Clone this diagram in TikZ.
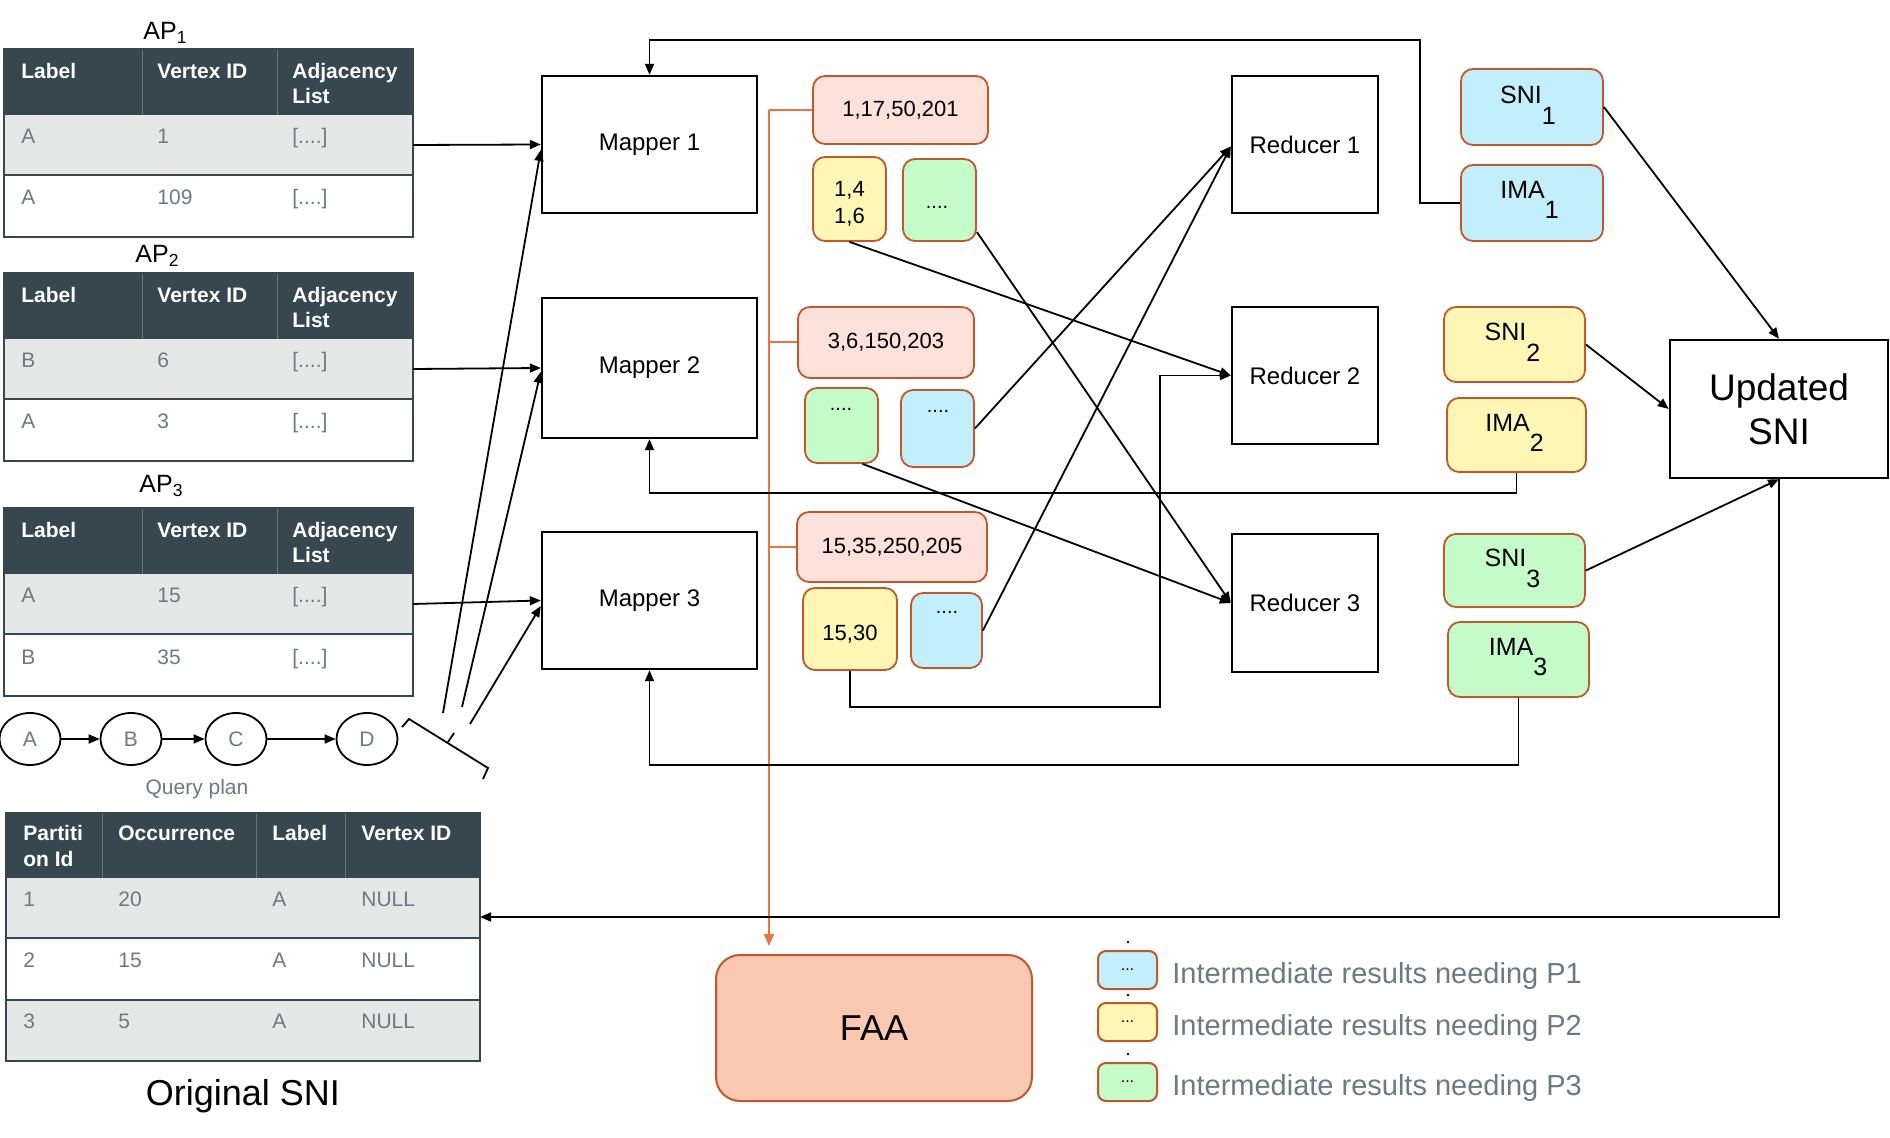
\documentclass[tikz,border=0pt]{standalone}
\usepackage{fontspec}
\setmainfont{Liberation Sans}
\usetikzlibrary{arrows.meta,shapes.geometric,calc}
\definecolor{hdr}{HTML}{37474F}
\definecolor{rowg}{HTML}{E6E8E8}
\definecolor{txtg}{HTML}{6B7A84}
\definecolor{bord}{HTML}{C0582B}
\definecolor{cpink}{HTML}{FDE1DA}
\definecolor{cyel}{HTML}{FDF6B5}
\definecolor{cgrn}{HTML}{C5FBC8}
\definecolor{cblu}{HTML}{C3EEFC}
\definecolor{cfaa}{HTML}{F8C8B0}
\definecolor{oline}{HTML}{EE7240}
\tikzset{
  cell/.style={anchor=north west, inner sep=0pt, outer sep=0pt, draw=none},
  cellh/.style={cell, fill=hdr},
  th/.style={anchor=base west, inner sep=0pt, text=white, font=\fontsize{10.5}{12}\selectfont\bfseries},
  td/.style={anchor=base west, inner sep=0pt, text=txtg, font=\fontsize{10.5}{12}\selectfont},
  bx/.style={draw=black, line width=1.2pt, inner sep=0pt, font=\fontsize{12}{14}\selectfont},
  cbox/.style={draw=bord, line width=0.9pt, rounded corners=6pt, inner sep=0pt, font=\fontsize{11}{13.5}\selectfont, align=center},
  ctxt/.style={inner sep=0pt, font=\fontsize{11}{13.5}\selectfont, align=center},
  dotsl/.style={inner sep=0pt, font=\fontsize{10}{12}\selectfont},
  subl/.style={inner sep=0pt, font=\fontsize{12.5}{14}\selectfont},
  arr/.style={-{Triangle[length=5.5pt,width=4.5pt]}, line width=0.9pt},
  conn/.style={line width=0.9pt},
  ol/.style={draw=oline, line width=1pt},
  ell/.style={ellipse, draw=black, line width=0.9pt, minimum width=30.5pt, minimum height=26pt, inner sep=0pt, text=txtg, font=\fontsize{10.5}{12}\selectfont},
  lgbox/.style={draw=bord, line width=1pt, rounded corners=4pt, minimum width=29.5pt, minimum height=19pt, inner sep=0pt, font=\fontsize{8}{9}\selectfont},
  lgtxt/.style={anchor=base west, inner sep=0pt, text=txtg, font=\fontsize{14.5}{16}\selectfont}
}
\newcommand\aptab[6]{%
  \node[cellh, minimum width=204.5pt, minimum height=33pt] (#1h) at (4,#2) {};
  \node[cell, fill=rowg, minimum width=204.5pt, minimum height=30pt] (#1r1) at (4,{#2+66}) {};
  \node[cell, fill=white, minimum width=204.5pt, minimum height=31pt] (#1r2) at (4,{#2+126}) {};
  \draw[hdr!75!white, line width=0.4pt] (142,#2) -- (142,{#2+66});
  \draw[hdr!75!white, line width=0.4pt] (277,#2) -- (277,{#2+66});
  \draw[hdr, line width=1pt] (#1h.north west) rectangle (#1r2.south east);
  \draw[hdr, line width=1pt] (#1r1.south west) -- (#1r1.south east);
  \node[th] (#1ta) at (21,{#2+29.5}) {Label};
  \node[th] (#1tb) at (157,{#2+29.5}) {Vertex ID};
  \node[th] (#1tc) at (292,{#2+29.5}) {Adjacency};
  \node[th] (#1td) at (292,{#2+54.5}) {List};
  \node[td] (#1da) at (21,{#2+95}) {#3};
  \node[td] (#1db) at (157,{#2+95}) {#4};
  \node[td] (#1dc) at (292,{#2+95}) {[....]};
  \node[td] (#1dd) at (21,{#2+156}) {#5};
  \node[td] (#1de) at (157,{#2+156}) {#6};
  \node[td] (#1df) at (292,{#2+156}) {[....]};
}
\begin{document}
\begin{tikzpicture}[x=0.5pt,y=-0.5pt]
\useasboundingbox (0,0) rectangle (1890,1138);
\fill[white] (0,0) rectangle (1890,1138);

% AP tables
\node[anchor=base west, inner sep=0pt, font=\fontsize{12.5}{14}\selectfont] (ap1l) at (143,40) {AP\textsubscript{1}};
\aptab{ap1}{49}{A}{1}{A}{109}
\node[anchor=base west, inner sep=0pt, font=\fontsize{12.5}{14}\selectfont] (ap2l) at (135,263) {AP\textsubscript{2}};
\aptab{ap2}{273}{B}{6}{A}{3}
\node[anchor=base west, inner sep=0pt, font=\fontsize{12.5}{14}\selectfont] (ap3l) at (139,493) {AP\textsubscript{3}};
\aptab{ap3}{508}{A}{15}{B}{35}

% Query plan
\node[ell] (qa) at (30,739) {A};
\node[ell] (qb) at (131,739) {B};
\node[ell] (qc) at (236,739) {C};
\node[ell] (qd) at (367,739) {D};
\draw[arr] (qa) -- (qb);
\draw[arr] (qb) -- (qc);
\draw[arr] (qc) -- (qd);
\node[inner sep=0pt, text=txtg, font=\fontsize{10.5}{12}\selectfont] (qp) at (197,789) {Query plan};
\draw[conn] (402,727) -- (409,719) -- (488,768) -- (483,779);
\draw[conn] (448,742) -- (454,733);
\coordinate (q1) at (443,713);
\coordinate (q2) at (462,707);
\coordinate (q3) at (470,724);

% Original SNI table
\node[cellh, minimum width=237pt, minimum height=32.5pt] (osh) at (6,813) {};
\node[cell, fill=rowg, minimum width=237pt, minimum height=30pt] (os1) at (6,878) {};
\node[cell, fill=white, minimum width=237pt, minimum height=31pt] (os2) at (6,938) {};
\node[cell, fill=rowg, minimum width=237pt, minimum height=30.5pt] (os3) at (6,1000) {};
\foreach \cx in {102,256,345} {\draw[hdr!75!white, line width=0.4pt] (\cx,813) -- (\cx,878);}
\draw[hdr, line width=1pt] (osh.north west) rectangle (os3.south east);
\draw[hdr, line width=1pt] (os1.south west) -- (os1.south east);
\draw[hdr, line width=1pt] (os2.south west) -- (os2.south east);
\node[th] (oha) at (23,840.5) {Partiti};
\node[th] (ohb) at (23,866.5) {on Id};
\node[th] (ohc) at (118,840.5) {Occurrence};
\node[th] (ohd) at (272,840.5) {Label};
\node[th] (ohe) at (361,840.5) {Vertex ID};
\node[td] (o1a) at (23,906) {1};
\node[td] (o1b) at (118,906) {20};
\node[td] (o1c) at (272,906) {A};
\node[td] (o1d) at (361,906) {NULL};
\node[td] (o2a) at (23,967) {2};
\node[td] (o2b) at (118,967) {15};
\node[td] (o2c) at (272,967) {A};
\node[td] (o2d) at (361,967) {NULL};
\node[td] (o3a) at (23,1028) {3};
\node[td] (o3b) at (118,1028) {5};
\node[td] (o3c) at (272,1028) {A};
\node[td] (o3d) at (361,1028) {NULL};
\node[anchor=base, inner sep=0pt, font=\fontsize{18}{20}\selectfont] (osl) at (243,1105) {Original SNI};

% Mappers
\node[bx, minimum width=107.5pt, minimum height=68.5pt] (m1) at (649.5,144.5) {Mapper 1};
\node[bx, minimum width=107.5pt, minimum height=70pt] (m2) at (649.5,368) {Mapper 2};
\node[bx, minimum width=107.5pt, minimum height=68.5pt] (m3) at (649.5,600.5) {Mapper 3};

% Reducers
\node[bx, minimum width=73pt, minimum height=68.5pt] (r1) at (1305,144.5) {Reducer 1};
\node[bx, minimum width=73pt, minimum height=68.5pt] (r2) at (1305,375.5) {Reducer 2};
\node[bx, minimum width=73pt, minimum height=69pt] (r3) at (1305,603) {Reducer 3};

% Updated SNI
\node[bx, minimum width=109pt, minimum height=69pt, align=center, font=\fontsize{18.5}{22}\selectfont] (upd) at (1779,409) {Updated\\SNI};

% Intermediate result boxes
\node[cbox, fill=cpink, minimum width=87.5pt, minimum height=34pt] (p1) at (900.5,110) {1,17,50,201};
\node[cbox, fill=cyel, minimum width=36.5pt, minimum height=42pt] (y1) at (849.5,199) {};
\node[ctxt] (y1t) at (849.5,204) {1,4\\1,6};
\node[cbox, fill=cgrn, minimum width=36.5pt, minimum height=41pt] (g1) at (939.5,200) {};
\node[dotsl] (g1d) at (937,207) {....};
\node[cbox, fill=cpink, minimum width=88pt, minimum height=35.5pt] (p2) at (886,342.5) {3,6,150,203};
\node[cbox, fill=cgrn, minimum width=36.5pt, minimum height=37.5pt] (g2) at (841.5,425.5) {};
\node[dotsl] (g2d) at (841,409) {....};
\node[cbox, fill=cblu, minimum width=36.5pt, minimum height=38.5pt] (b2) at (937.5,428.5) {};
\node[dotsl] (b2d) at (938,411) {....};
\node[cbox, fill=cpink, minimum width=95pt, minimum height=35pt] (p3) at (892,547) {15,35,250,205};
\node[cbox, fill=cyel, minimum width=47pt, minimum height=41pt] (y3) at (850,629) {};
\node[ctxt] (y3t) at (850,634) {15,30};
\node[cbox, fill=cblu, minimum width=35.5pt, minimum height=37.5pt] (b3) at (946.5,630.5) {};
\node[dotsl] (b3d) at (947,612) {....};

% SNI / IMA boxes
\node[cbox, fill=cblu, minimum width=71pt, minimum height=38pt] (s1) at (1532,107) {};
\node[cbox, fill=cblu, minimum width=71pt, minimum height=38pt] (i1) at (1532,203) {};
\node[cbox, fill=cyel, minimum width=70.5pt, minimum height=37.5pt] (s2) at (1514.5,344.5) {};
\node[cbox, fill=cyel, minimum width=69.5pt, minimum height=37pt] (i2) at (1516.5,435) {};
\node[cbox, fill=cgrn, minimum width=70.5pt, minimum height=36.5pt] (s3) at (1514.5,570.5) {};
\node[cbox, fill=cgrn, minimum width=70.5pt, minimum height=37.5pt] (i3) at (1518.5,659.5) {};
\node[subl] (s1t) at (1528,95) {SNI\smash{\raisebox{-10.5pt}{1}}};
\node[subl] (i1t) at (1529.5,190) {IMA\smash{\raisebox{-10pt}{1}}};
\node[subl] (s2t) at (1512.5,332) {SNI\smash{\raisebox{-10.5pt}{2}}};
\node[subl] (i2t) at (1514.5,423) {IMA\smash{\raisebox{-10pt}{2}}};
\node[subl] (s3t) at (1512.5,558) {SNI\smash{\raisebox{-10.5pt}{3}}};
\node[subl] (i3t) at (1518,647) {IMA\smash{\raisebox{-10pt}{3}}};

% FAA
\node[draw=bord, line width=1pt, fill=cfaa, rounded corners=12pt, minimum width=158pt, minimum height=73pt, font=\fontsize{18}{20}\selectfont] (faa) at (874,1028) {FAA};

% Legend
\node[lgbox, fill=cblu] (lb1) at (1127.5,970) {...};
\node[lgbox, fill=cyel] (lb2) at (1127.5,1022) {...};
\node[lgbox, fill=cgrn] (lb3) at (1127.5,1082) {...};
\fill (1128,942) circle (0.7pt);
\fill (1128,995) circle (0.7pt);
\fill (1128,1054) circle (0.7pt);
\node[lgtxt] (lt1) at (1172,983) {Intermediate results needing P1};
\node[lgtxt] (lt2) at (1172,1035) {Intermediate results needing P2};
\node[lgtxt] (lt3) at (1172,1095) {Intermediate results needing P3};

% Orange connectors
\coordinate (otop) at (769,110);
\draw[ol] (p1.west) -- (otop);
\draw[ol, -{Triangle[length=6pt,width=5pt]}, shorten >=4pt] (otop) -- (otop |- faa.north);
\draw[ol] (p2.west) -- (otop |- p2.west);
\draw[ol] (p3.west) -- (otop |- p3.west);

% Inputs to mappers
\draw[arr] (ap1r1.east) -- (m1.west);
\draw[arr] (ap2r1.east) -- (m2.west);
\draw[arr] (ap3r1.east) -- (m3.west);
\draw[arr] (q1) -- ([yshift=-2.75pt]m1.west);
\draw[arr] (q2) -- ([yshift=-2pt]m2.west);
\draw[arr] (q3) -- ([yshift=-2.75pt]m3.west);

% Feedback to mappers
\draw[arr] (i1.west) -| (1420,40) -| (m1.north);
\draw[arr] (i2.south) -- ++(0,20) -| (m2.south);
\draw[arr] (i3.south) -- ++(0,67) -| (m3.south);

% Shuffle to reducers
\draw[arr] (y1.south) -- (r2.west);
\draw[arr] ([yshift=-16pt]g1.east) -- (r3.west);
\draw[arr] (b2.east) -- ([yshift=-1pt]r1.west);
\draw[arr] ([xshift=10.5pt]g2.south) -- (r3.west);
\draw[arr] (b3.east) -- ([yshift=-1pt]r1.west);
\draw[arr] (y3.south) |- (1160,707) |- (r2.west);

% To updated SNI
\draw[arr] (s1.east) -- (upd.north);
\draw[arr] (s2.east) -- (upd.west);
\draw[arr] (s3.east) -- (upd.south);
\draw[arr] (upd.south) |- ([yshift=-4.5pt]os1.east);
\end{tikzpicture}
\end{document}
